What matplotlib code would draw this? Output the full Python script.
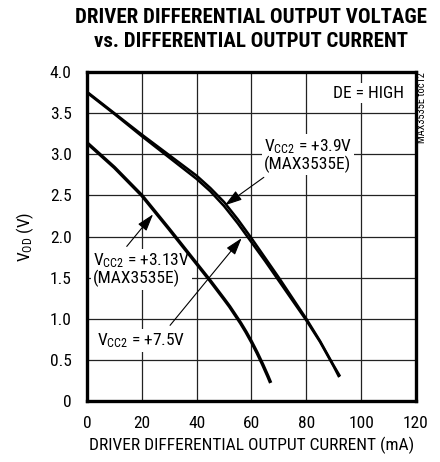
import matplotlib
matplotlib.use("Agg")
import matplotlib.pyplot as plt

plt.rcParams['font.family'] = ['Roboto Condensed', 'Archivo Narrow', 'Liberation Sans', 'DejaVu Sans']
plt.rcParams['mathtext.default'] = 'regular'

# output current (mA) and differential output voltage (V)
current_39 = [0, 10, 20, 30, 40, 45, 50, 55, 60, 65, 70, 75, 80, 85, 90, 92.3]
vod_39 = [3.76, 3.50, 3.24, 2.99, 2.74, 2.59, 2.42, 2.21, 1.98, 1.74, 1.50, 1.25, 1.00, 0.73, 0.43, 0.30]

current_75 = [0, 10, 20, 30, 40, 45, 50, 55, 60, 65, 70, 75, 80, 85, 90, 92.0]
vod_75 = [3.75, 3.49, 3.22, 2.96, 2.70, 2.55, 2.37, 2.16, 1.93, 1.70, 1.46, 1.22, 0.98, 0.72, 0.42, 0.29]

current_313 = [0, 10, 20, 30, 40, 45, 50, 52, 54, 56, 58, 60, 62, 64, 66, 67]
vod_313 = [3.14, 2.84, 2.50, 2.09, 1.67, 1.46, 1.24, 1.15, 1.05, 0.95, 0.84, 0.72, 0.59, 0.45, 0.30, 0.22]

x_ticks = [0, 20, 40, 60, 80, 100, 120]
y_ticks = [0, 0.5, 1.0, 1.5, 2.0, 2.5, 3.0, 3.5, 4.0]
y_labels = ['0', '0.5', '1.0', '1.5', '2.0', '2.5', '3.0', '3.5', '4.0']

fig = plt.figure(figsize=(4.4, 4.62), dpi=100)
ax = fig.add_axes([0.1977, 0.132, 0.7477, 0.712])

# curves (drawn above the white label boxes)
ax.plot(current_39, vod_39, color='black', lw=1.8, solid_capstyle='butt', zorder=4)
ax.plot(current_75, vod_75, color='black', lw=1.8, solid_capstyle='butt', zorder=4)
ax.plot(current_313, vod_313, color='black', lw=2.5, solid_capstyle='butt', zorder=4)

ax.set_xlim(0, 120)
ax.set_ylim(0, 4.0)
ax.set_xticks(x_ticks)
ax.set_yticks(y_ticks)
ax.set_yticklabels(y_labels)
ax.tick_params(length=0, labelsize=12.5, pad=11)
ax.grid(True, color='#222222', lw=0.9)
ax.set_axisbelow(True)
for s in ax.spines.values():
    s.set_linewidth(2.4)
    s.set_zorder(5)

ax.set_xlabel('DRIVER DIFFERENTIAL OUTPUT CURRENT (mA)', fontsize=12.5, labelpad=4)
ax.set_ylabel('$V_{OD}$ (V)', fontsize=12.5, labelpad=10)

# title
fig.text(0.571, 0.962, 'DRIVER DIFFERENTIAL OUTPUT VOLTAGE', ha='center', va='center',
         fontsize=15, fontweight='heavy')
fig.text(0.571, 0.910, 'vs. DIFFERENTIAL OUTPUT CURRENT', ha='center', va='center',
         fontsize=15, fontweight='heavy')

box = dict(facecolor='white', edgecolor='none', pad=1.5)

ax.text(115.6, 3.745, 'DE = HIGH', ha='right', va='center', fontsize=12.5, bbox=box, zorder=3)
fig.text(0.958, 0.843, 'MAX3535E toc12', rotation=90, ha='center', va='top', fontsize=7.5)

ax.text(64.5, 2.99, '$V_{CC2}$ = +3.9V\n(MAX3535E)', ha='left', va='center',
        fontsize=12.5, linespacing=1.0, bbox=box, zorder=3)
ax.text(2.2, 1.60, '$V_{CC2}$ = +3.13V\n(MAX3535E)', ha='left', va='center',
        fontsize=12.5, linespacing=1.0, bbox=box, zorder=3)
ax.text(3.6, 0.74, '$V_{CC2}$ = +7.5V', ha='left', va='center', fontsize=12.5, bbox=box, zorder=3)

arrow = dict(arrowstyle='-|>,head_length=0.7,head_width=0.22', color='black',
             lw=0.8, mutation_scale=15, shrinkA=0, shrinkB=0)
ax.annotate('', xy=(50.3, 2.38), xytext=(64.5, 2.72), arrowprops=arrow, zorder=4)
ax.annotate('', xy=(24.1, 2.27), xytext=(14.5, 1.88), arrowprops=arrow, zorder=4)
ax.annotate('', xy=(56.4, 1.98), xytext=(30.3, 0.92), arrowprops=arrow, zorder=4)

fig.savefig('out.png', dpi=100)
